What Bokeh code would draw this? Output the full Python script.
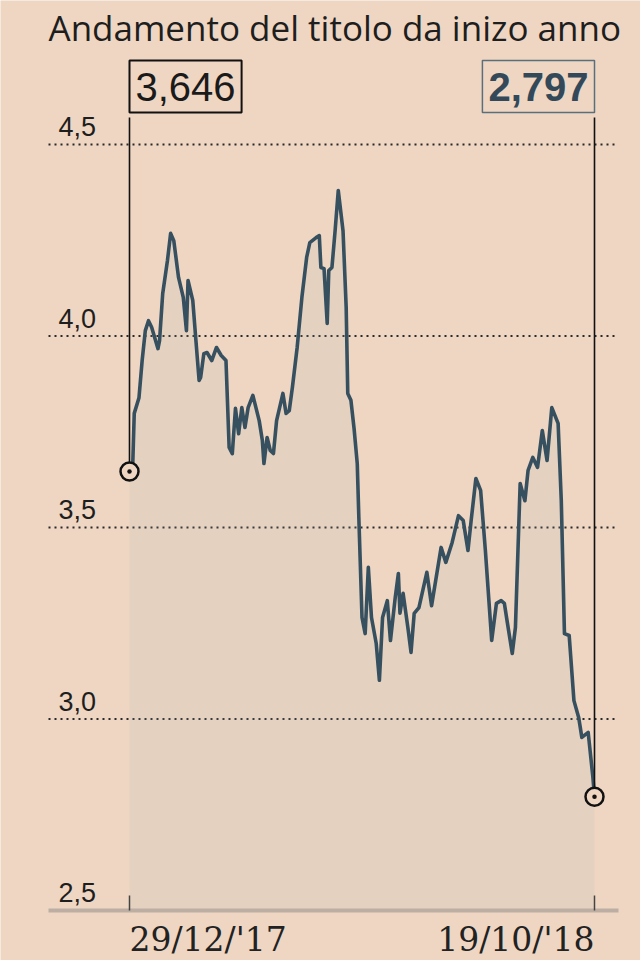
from bokeh.plotting import figure
from bokeh.models import Label
from bokeh.core.properties import value
from bokeh.embed import file_html
from bokeh.resources import INLINE

title_text = "Andamento del titolo da inizo anno"
date_labels = ["29/12/'17", "19/10/'18"]
y_ticks = [2.5, 3.0, 3.5, 4.0, 4.5]

# days since 29/12/2017 and price (euro)
days = [0, 2, 3, 6, 8, 10, 12, 14, 18, 19, 21, 24, 26, 28, 31, 34, 36, 37, 40, 42,
        44, 45, 47, 49, 52, 55, 58, 61, 63, 65, 67, 69, 71, 73, 75, 78, 82, 84, 85, 87,
        89, 91, 93, 97, 99, 101, 103, 106, 109, 112, 114, 118, 120, 121, 123, 125, 126, 128, 130, 132,
        135, 137, 138, 140, 142, 144, 145, 147, 149, 151, 153, 156, 158, 160, 163, 165, 168, 170, 171, 173,
        176, 178, 180, 183, 188, 191, 197, 200, 204, 208, 211, 214, 216, 219, 222, 225, 229, 232, 235, 237,
        239, 242, 244, 247, 250, 252, 255, 258, 261, 264, 267, 271, 273, 275, 278, 281, 284, 286, 290, 293,
        294]
prices = [3.646, 3.657, 3.798, 3.839, 3.936, 4.014, 4.040, 4.023, 3.967, 3.988, 4.111, 4.197, 4.268, 4.249, 4.153, 4.101, 4.014, 4.145, 4.093, 3.988,
          3.884, 3.892, 3.954, 3.957, 3.936, 3.970, 3.949, 3.936, 3.709, 3.693, 3.811, 3.745, 3.813, 3.761, 3.813, 3.845, 3.779, 3.727, 3.667, 3.735,
          3.701, 3.693, 3.779, 3.850, 3.798, 3.805, 3.866, 3.970, 4.101, 4.205, 4.244, 4.257, 4.262, 4.179, 4.176, 4.033, 4.171, 4.179, 4.275, 4.380,
          4.275, 4.074, 3.850, 3.832, 3.758, 3.667, 3.526, 3.265, 3.223, 3.396, 3.265, 3.197, 3.101, 3.265, 3.309, 3.205, 3.317, 3.380, 3.276, 3.328,
          3.239, 3.174, 3.276, 3.291, 3.383, 3.296, 3.448, 3.409, 3.461, 3.531, 3.518, 3.440, 3.518, 3.628, 3.597, 3.440, 3.205, 3.302, 3.309, 3.302,
          3.249, 3.171, 3.239, 3.615, 3.570, 3.649, 3.683, 3.657, 3.753, 3.675, 3.813, 3.772, 3.570, 3.223, 3.218, 3.048, 3.004, 2.952, 2.965, 2.847,
          2.797]

BG = "#eed6c2"
LINE = "#37505f"

W, H = 640, 960
PX_Y = 383.0                      # pixels per euro
PX_X = 465.0 / (days[-1] - days[0])  # pixels per day
x_start = days[0] - 129 / PX_X
x_end = x_start + W / PX_X
x_g0 = days[0] - 81 / PX_X       # left end of grid / axis rules
x_g1 = days[-1] + 24 / PX_X      # right end of grid / axis rules
y_base = y_ticks[0]
y_end = y_ticks[-1] + 144 / PX_Y
y_start = y_end - H / PX_Y

p = figure(width=W, height=H, output_backend="svg", toolbar_location=None,
           x_range=(x_start, x_end), y_range=(y_start, y_end),
           min_border_left=0, min_border_right=0, min_border_top=0, min_border_bottom=0)
p.background_fill_color = BG
p.border_fill_color = BG
p.outline_line_color = None
p.xaxis.visible = False
p.yaxis.visible = False
p.xgrid.visible = False
p.ygrid.visible = False

# dotted grid rules
grid_y = y_ticks[1:]
p.segment(x0=[x_g0] * len(grid_y), y0=grid_y, x1=[x_g1] * len(grid_y), y1=grid_y,
          line_color="#2a2a2a", line_dash="2 4", line_width=2)

# title
p.text(x=[x_g0], y=[y_end], text=[title_text], text_font=value("Open Sans"),
       text_font_size="35px", text_color="#1e1e1e", text_baseline="top", y_offset=3)

# area and line
p.varea(x=days, y1=y_base, y2=prices, fill_color="#aab0b6", fill_alpha=0.13)
p.line(days, prices, line_color=LINE, line_width=3.6, line_join="round")

# baseline axis with ticks and date labels
p.segment(x0=[x_g0], y0=[y_base], x1=[x_g1], y1=[y_base], line_color="#bcaea3", line_width=4)
tick_x = [days[0], days[-1]]
p.segment(x0=tick_x, y0=[y_base] * 2, x1=tick_x, y1=[y_base + 15 / PX_Y] * 2,
          line_color="#444444", line_width=1.5)
p.text(x=tick_x, y=[y_base] * 2, text=date_labels, text_align=["left", "right"],
       text_font=value("DejaVu Serif"), text_font_size="33px", text_color="#222222",
       text_baseline="alphabetic", y_offset=29)

# y tick labels
x_lab = x_g0 + 10 / PX_X
p.text(x=[x_lab] * len(y_ticks), y=y_ticks,
       text=[f"{t:.1f}".replace(".", ",") for t in y_ticks],
       text_font=value("Liberation Sans"), text_font_size="27px",
       text_color="#1e1e1e", text_baseline="alphabetic", y_offset=-18)

# start / end markers, connecting lines and value boxes
line_top = y_end - 117 / PX_Y
box_top = y_end - 60 / PX_Y
p.segment(x0=tick_x, y0=[prices[0], prices[-1]], x1=tick_x, y1=[line_top, line_top],
          line_color="#111111", line_width=1.6)
p.scatter(tick_x, [prices[0], prices[-1]], marker="circle_dot", size=18,
          line_color="#111111", line_width=2.5, fill_color=BG)

fmt = lambda v: f"{v:.3f}".replace(".", ",")
p.add_layout(Label(x=days[0], y=box_top, text=fmt(prices[0]), anchor="top_left",
                   text_font="Liberation Sans", text_font_size="40px", text_color="#1a1a1a",
                   padding=(6, 12), border_line_color="#111111", border_line_width=2))
p.add_layout(Label(x=days[-1], y=box_top, text=fmt(prices[-1]), anchor="top_right",
                   text_font="Liberation Sans", text_font_size="40px", text_font_style="bold",
                   text_color="#33495a", padding=(6, 12), border_line_color="#5a6e7c",
                   border_line_width=1.5))

open("out.html", "w").write(file_html(p, INLINE))
